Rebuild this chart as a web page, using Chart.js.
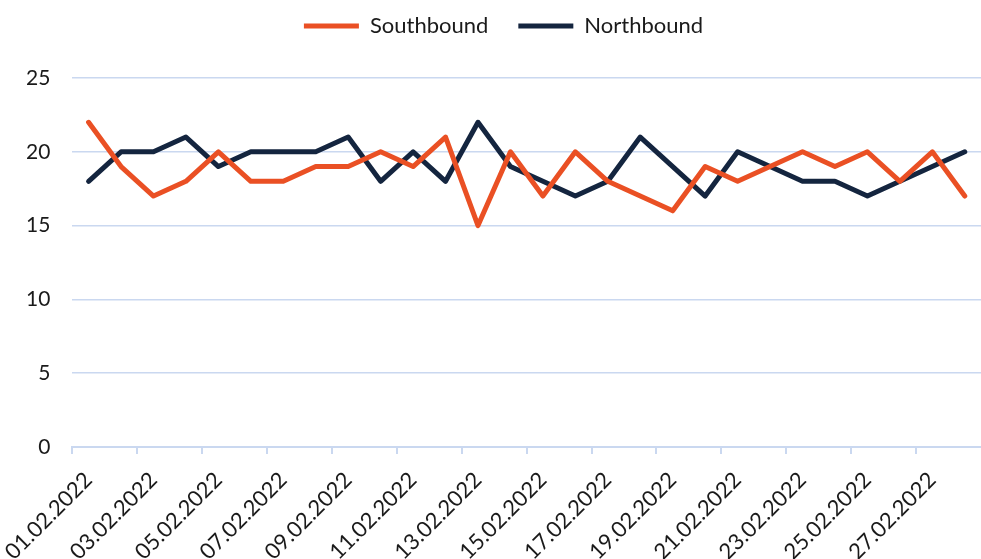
<!DOCTYPE html>
<html>
<head>
  <script type="text/javascript" src="https://cdn.jsdelivr.net/npm/chart.js@4/dist/chart.umd.min.js"></script>
  <style>
    html, body { margin: 0; padding: 0; background: #fff; }
    #wrap { width: 981px; height: 559px; }
  </style>
</head>
<body onload="javascript:init()">
<div id="wrap">
<canvas id="line-chart" width="981" height="559"></canvas>
</div>
<script>
  // one label per day, February 2022
  var days = ["01.02.2022", "02.02.2022", "03.02.2022", "04.02.2022", "05.02.2022", "06.02.2022", "07.02.2022",
              "08.02.2022", "09.02.2022", "10.02.2022", "11.02.2022", "12.02.2022", "13.02.2022", "14.02.2022",
              "15.02.2022", "16.02.2022", "17.02.2022", "18.02.2022", "19.02.2022", "20.02.2022", "21.02.2022",
              "22.02.2022", "23.02.2022", "24.02.2022", "25.02.2022", "26.02.2022", "27.02.2022", "28.02.2022"];
  var southbound = [22, 19, 17, 18, 20, 18, 18, 19, 19, 20, 19, 21, 15, 20,
                    17, 20, 18, 17, 16, 19, 18, 19, 20, 19, 20, 18, 20, 17];
  var northbound = [18, 20, 20, 21, 19, 20, 20, 20, 21, 18, 20, 18, 22, 19,
                    18, 17, 18, 21, 19, 17, 20, 19, 18, 18, 17, 18, 19, 20];
  var yTicks = [0, 5, 10, 15, 20, 25];

  var dataPlot;

  // leave more room between the legend and the plot
  var legendGap = {
    id: 'legendGap',
    beforeLayout: function(chart) {
      var lg = chart.legend;
      if (lg && !lg._gapDone) {
        var fit = lg.fit;
        lg.fit = function() { fit.call(this); this.height += 31; };
        lg._gapDone = true;
      }
    }
  };

  function init(){
    var font = "Lato, 'Open Sans', sans-serif";
    var gridBlue = "#cad8f0";
    dataPlot = new Chart(document.getElementById("line-chart"), {
      type: 'line',
      data: {
        labels: days,
        datasets: [{
          label: "Southbound",
          data: southbound,
          borderColor: "#ea5024",
          backgroundColor: "#ea5024",
          borderWidth: 5,
          borderCapStyle: 'round',
          borderJoinStyle: 'round',
          pointRadius: 0,
          pointStyle: 'line',
          tension: 0,
          fill: false
        }, {
          label: "Northbound",
          data: northbound,
          borderColor: "#14253f",
          backgroundColor: "#14253f",
          borderWidth: 5,
          borderCapStyle: 'round',
          borderJoinStyle: 'round',
          pointRadius: 0,
          pointStyle: 'line',
          tension: 0,
          fill: false
        }]
      },
      plugins: [legendGap],
      options: {
        responsive: false,
        animation: false,
        layout: { padding: { left: 26, right: 0, top: -15, bottom: 0 } },
        plugins: {
          tooltip: { enabled: false },
          legend: {
            position: 'top',
            labels: {
              usePointStyle: true,
              pointStyleWidth: 55,
              padding: 30,
              color: '#1a1a1a',
              font: { family: font, size: 22 }
            }
          }
        },
        scales: {
          x: {
            offset: true,
            afterFit: function(axis) { axis.paddingLeft = 0; axis.paddingRight = 0; axis.height = 112; },
            grid: {
              offset: true,
              drawOnChartArea: false,
              tickLength: 7,
              lineWidth: 2,
              color: function(c) { return (c.index % 2 === 0 && c.index < days.length) ? gridBlue : 'rgba(0,0,0,0)'; }
            },
            border: { color: gridBlue, width: 2 },
            ticks: {
              autoSkip: false,
              minRotation: 45,
              maxRotation: 45,
              padding: 13,
              color: '#1a1a1a',
              font: { family: font, size: 22 },
              callback: function(v, i) { return i % 2 === 0 ? days[i] : ''; }
            }
          },
          y: {
            min: 0,
            max: 25,
            afterBuildTicks: function(axis) { axis.ticks = yTicks.map(function(v) { return { value: v }; }); },
            afterFit: function(axis) { axis.width -= 22; },
            grid: { color: gridBlue, lineWidth: 1.5, drawTicks: false },
            border: { display: false },
            ticks: {
              padding: 22,
              color: '#1a1a1a',
              font: { family: font, size: 21 }
            }
          }
        }
      }
    });
  }
</script>
</body>
</html>
